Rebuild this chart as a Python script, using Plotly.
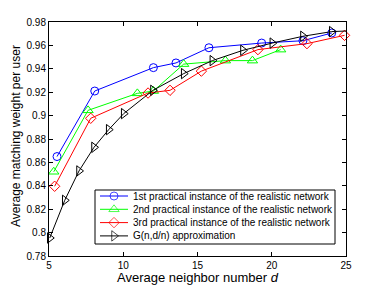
import plotly.graph_objects as go

x_blue = [5.54, 8.08, 12.03, 13.55, 15.77, 19.32, 22.1, 24.04]
y_blue = [0.865, 0.921, 0.941, 0.945, 0.958, 0.962, 0.964, 0.9706]

x_green = [5.32, 7.63, 10.95, 12.03, 14.07, 16.88, 18.7, 20.6]
y_green = [0.852, 0.9045, 0.919, 0.921, 0.944, 0.947, 0.947, 0.9564]

x_red = [5.38, 7.81, 11.67, 13.15, 15.26, 19.07, 22.37, 24.9]
y_red = [0.8396, 0.8977, 0.9193, 0.9216, 0.938, 0.9564, 0.9615, 0.9686]

x_black = [5.05, 6.06, 7.02, 8.03, 9.02, 10.03, 12.0, 14.07, 16.0, 18.06, 20.04, 22.1, 24.04, 25.03]
y_black = [0.7954, 0.8276, 0.8527, 0.8729, 0.888, 0.9017, 0.9216, 0.9359, 0.947, 0.9558, 0.962, 0.9678, 0.9718, 0.9723]

names = ["1st practical instance of the realistic network",
         "2nd practical instance of the realistic network",
         "3rd practical instance of the realistic network",
         "G(n,d/n) approximation"]

x_ticks = [5, 10, 15, 20, 25]
y_ticks = [0.78, 0.8, 0.82, 0.84, 0.86, 0.88, 0.9, 0.92, 0.94, 0.96, 0.98]
y_tick_text = ["0.78", "0.8", "0.82", "0.84", "0.86", "0.88", "0.9", "0.92", "0.94", "0.96", "0.98"]

x_title = "Average neighbor number <i>d</i>"
y_title = "Average matching weight per user"

W, H = 382, 287
ML, MR, MT, MB = 49, 36, 22, 31
FONT = "Liberation Sans, Arial, sans-serif"

fig = go.Figure()
series = [
    (x_blue, y_blue, "#0000ff", "circle-open", 8),
    (x_green, y_green, "#00ff00", "triangle-up-open", 9),
    (x_red, y_red, "#ff0000", "diamond-open", 8),
    (x_black, y_black, "#000000", "triangle-right-open", 9),
]
for (xs, ys, c, sym, sz), nm in zip(series, names):
    fig.add_trace(go.Scatter(
        x=xs, y=ys, name=nm, mode="lines+markers", showlegend=False,
        line=dict(color=c, width=1),
        marker=dict(symbol=sym, size=sz, color=c, line=dict(color=c, width=1)),
        cliponaxis=False,
    ))

# Custom legend drawn in a pixel-coordinate overlay axis (x2/y2)
LEG_X0, LEG_X1, LEG_Y0, LEG_Y1 = 95, 335, 190, 244
LEG_ROWS = [196, 209.3, 222.6, 235.9]
LEG_LINE = (100, 128)
LEG_MARK_X = 114
LEG_TEXT_X = 131

fig.add_trace(go.Scatter(
    x=[LEG_X0, LEG_X1, LEG_X1, LEG_X0, LEG_X0],
    y=[LEG_Y0, LEG_Y0, LEG_Y1, LEG_Y1, LEG_Y0],
    xaxis="x2", yaxis="y2", mode="lines", fill="toself", fillcolor="white",
    line=dict(color="black", width=1), showlegend=False, hoverinfo="skip",
))
for (xs, ys, c, sym, sz), nm, ry in zip(series, names, LEG_ROWS):
    fig.add_trace(go.Scatter(
        x=[LEG_LINE[0], LEG_MARK_X, LEG_LINE[1]], y=[ry, ry, ry],
        xaxis="x2", yaxis="y2", mode="lines+markers",
        showlegend=False, hoverinfo="skip",
        line=dict(color=c, width=1),
        marker=dict(symbol=sym, size=[0, sz, 0], color=c, line=dict(color=c, width=1)),
    ))
    fig.add_annotation(x=LEG_TEXT_X, y=ry, xref="x2", yref="y2", text=nm,
                       showarrow=False, xanchor="left", yanchor="middle",
                       font=dict(size=10, family=FONT, color="black"))

# Axis titles
fig.add_annotation(x=0.5, y=0, xref="paper", yref="paper", text=x_title,
                   showarrow=False, xanchor="center", yanchor="middle", yshift=-21,
                   font=dict(size=13, family=FONT, color="black"))
fig.add_annotation(x=0, y=0.5, xref="paper", yref="paper", text=y_title,
                   showarrow=False, xanchor="center", yanchor="middle", textangle=-90,
                   xshift=-33, yshift=3,
                   font=dict(size=12, family=FONT, color="black"))

axis_common = dict(showgrid=False, zeroline=False, showline=True, linecolor="black",
                   linewidth=1, mirror="ticks", ticks="inside", ticklen=4,
                   tickcolor="black", tickfont=dict(family=FONT, size=10, color="black"))

fig.update_layout(
    width=W, height=H,
    margin=dict(l=ML, r=MR, t=MT, b=MB),
    paper_bgcolor="white", plot_bgcolor="white",
    font=dict(family=FONT, color="black"),
    xaxis=dict(range=[5, 25], tickvals=x_ticks, **axis_common),
    yaxis=dict(range=[0.78, 0.98], tickvals=y_ticks, ticktext=y_tick_text, **axis_common),
    xaxis2=dict(overlaying="x", range=[ML, W - MR], visible=False, fixedrange=True),
    yaxis2=dict(overlaying="y", range=[H - MB, MT], visible=False, fixedrange=True),
    showlegend=False,
)

fig.write_html("out.html", config={"displayModeBar": False},
               post_script="document.body.style.margin='0';document.body.style.overflow='hidden';")
